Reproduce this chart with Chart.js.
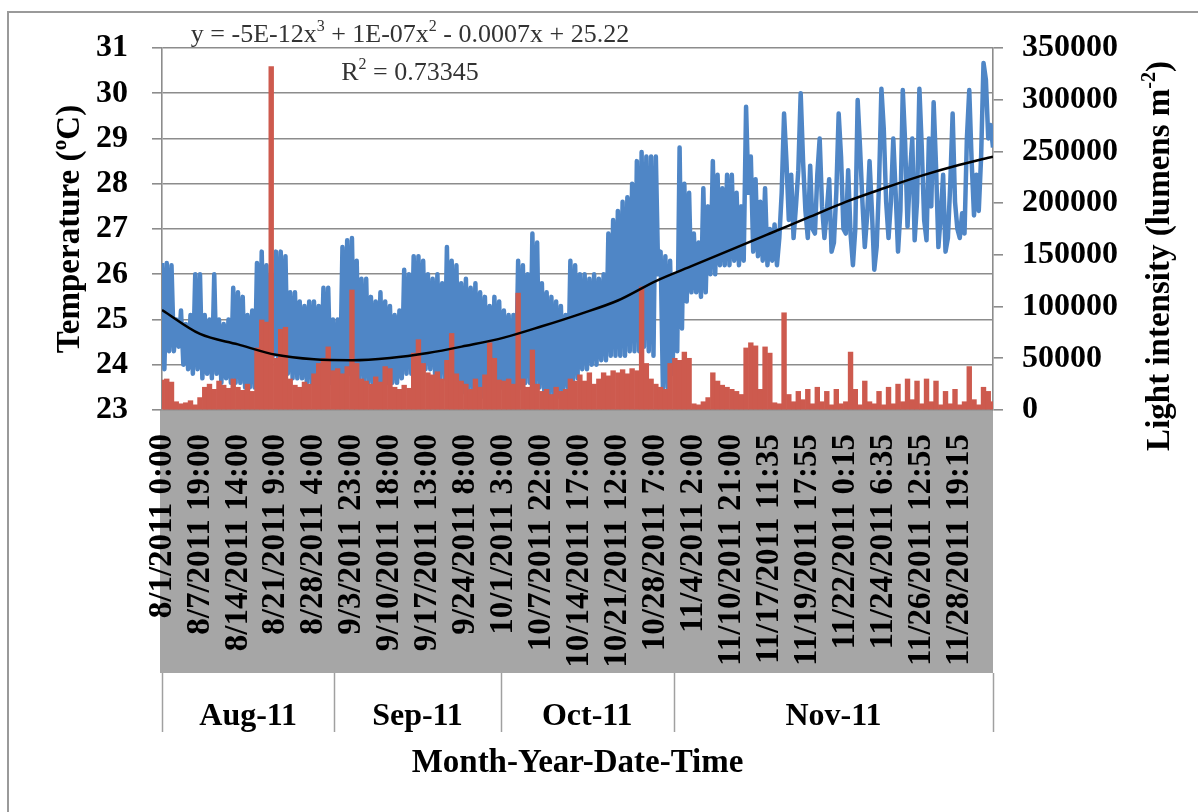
<!DOCTYPE html>
<html>
<head>
<meta charset="utf-8">
<script src="https://cdn.jsdelivr.net/npm/chart.js@4.4.0/dist/chart.umd.min.js"></script>
<style>
  html, body { margin: 0; padding: 0; background: #fff; }
</style>
</head>
<body>
<canvas id="chart" width="1198" height="812"></canvas>
<script>
// tick labels, one every 8 buckets on the x axis
const tickLabels = [
    '8/1/2011 0:00', '8/7/2011 19:00', '8/14/2011 14:00', '8/21/2011 9:00', '8/28/2011 4:00',
    '9/3/2011 23:00', '9/10/2011 18:00', '9/17/2011 13:00', '9/24/2011 8:00', '10/1/2011 3:00',
    '10/7/2011 22:00', '10/14/2011 17:00', '10/21/2011 12:00', '10/28/2011 7:00', '11/4/2011 2:00',
    '11/10/2011 21:00', '11/17/2011 11:35', '11/19/2011 17:55', '11/22/2011 0:15', '11/24/2011 6:35',
    '11/26/2011 12:55', '11/28/2011 19:15'
];
const tickIdx = tickLabels.map((_, i) => i * 8);

const monthLabels = ['Aug-11', 'Sep-11', 'Oct-11', 'Nov-11'];
const monthBounds = [0, 36.3, 71.3, 107.8, 175];

// temperature, two readings per bucket (16 per tick interval)
const tempValues = [
    26.25, 23.9, 26.25, 24.3, 26.2, 24.3, 25.0, 24.4, 25.2, 24.0, 24.9, 23.9, 25.1, 23.8, 26.0, 23.9,
    26.0, 23.7, 25.1, 23.8, 25.0, 23.7, 26.0, 23.8, 25.0, 23.6, 24.9, 23.7, 25.0, 23.6, 25.7, 23.6,
    25.6, 23.6, 25.5, 23.5, 25.1, 23.5, 25.2, 23.5, 26.25, 23.6, 26.5, 23.8, 26.2, 23.8, 26.0, 24.2,
    26.5, 24.0, 26.5, 23.9, 26.4, 23.8, 25.6, 23.7, 25.6, 23.7, 25.4, 23.7, 25.3, 23.6, 25.4, 23.6,
    25.4, 23.6, 25.3, 23.7, 25.7, 23.7, 25.7, 23.6, 25.0, 23.6, 25.0, 23.6, 26.6, 23.7, 26.75, 23.8,
    26.8, 23.8, 26.3, 23.7, 25.9, 23.6, 25.9, 23.6, 25.5, 23.5, 25.4, 23.5, 25.6, 23.5, 25.4, 23.6,
    25.3, 23.6, 25.1, 23.6, 25.2, 23.7, 26.1, 23.8, 26.0, 23.8, 26.4, 23.9, 26.4, 24.0, 26.3, 23.9,
    26.0, 23.9, 25.9, 23.8, 26.0, 23.7, 25.8, 23.7, 26.6, 23.6, 26.3, 23.5, 26.2, 23.5, 25.8, 23.4,
    25.9, 23.4, 25.7, 23.4, 25.8, 23.3, 25.6, 23.3, 25.5, 23.4, 25.3, 23.4, 25.5, 23.4, 25.4, 23.5,
    25.2, 23.5, 25.1, 23.4, 25.1, 23.4, 26.3, 23.5, 26.2, 23.6, 26.0, 23.6, 26.9, 23.5, 26.7, 23.5,
    25.8, 23.4, 25.6, 23.3, 25.5, 23.3, 25.4, 23.3, 25.3, 23.4, 25.1, 23.5, 26.3, 23.6, 26.2, 23.7,
    26.0, 23.9, 26.0, 23.9, 25.9, 24.0, 26.0, 24.0, 25.9, 24.1, 26.0, 24.1, 26.9, 24.2, 27.2, 24.2,
    27.4, 24.2, 27.6, 24.2, 27.7, 24.3, 28.0, 24.3, 28.5, 24.3, 28.7, 24.4, 28.6, 24.3, 28.6, 24.2,
    28.6, 26.0, 26.5, 23.4, 26.4, 23.5, 26.3, 23.8, 26.0, 24.3, 28.8, 24.8, 28.0, 25.4, 27.8, 25.6,
    26.9, 25.6, 26.7, 25.5, 27.9, 25.6, 27.5, 26.0, 28.5, 26.0, 28.2, 26.2, 27.9, 26.2, 28.2, 26.2,
    28.2, 26.3, 27.8, 26.2, 27.5, 26.3, 29.7, 27.8, 28.6, 26.5, 28.1, 26.4, 27.6, 26.3, 27.9, 26.2,
    27.0, 26.3, 27.1, 26.2, 26.8, 27.8, 29.55, 28.5, 27.2, 28.2, 26.8, 27.5, 28.3, 30.0, 28.5, 27.4,
    26.8, 28.4, 27.0, 26.9, 28.2, 29.0, 27.5, 26.8, 27.4, 28.1, 26.5, 26.7, 27.8, 29.55, 28.6, 27.0,
    26.9, 28.3, 26.9, 26.2, 27.0, 29.85, 28.8, 27.6, 26.6, 27.3, 28.5, 27.4, 26.1, 26.6, 28.0, 30.1,
    29.2, 27.6, 26.8, 27.6, 29.0, 27.8, 26.5, 27.4, 30.07, 28.9, 27.05, 28.2, 29.0, 26.75, 27.6, 30.1,
    28.8, 27.2, 26.75, 29.0, 27.5, 29.8, 28.4, 26.6, 27.3, 28.2, 26.5, 26.8, 28.0, 29.55, 27.6, 27.0,
    26.8, 27.35, 26.9, 29.0, 30.07, 28.5, 27.3, 28.2, 27.4, 28.6, 30.67, 30.3, 29.0, 29.3, 28.8, 28.8
];

// light intensity, one bar per bucket (8 per tick interval)
const lightValues = [
    29000, 30000, 27000, 8000, 6000, 7000, 9000, 5000,
    12000, 22000, 25000, 20000, 28000, 24000, 21000, 30000,
    22000, 19000, 25000, 18000, 60000, 87000, 85000, 332000,
    50000, 78000, 80000, 30000, 24000, 22000, 27000, 25000,
    35000, 45000, 50000, 61000, 38000, 40000, 35000, 42000,
    116000, 45000, 30000, 28000, 25000, 32000, 27000, 42000,
    40000, 22000, 20000, 24000, 21000, 55000, 68000, 45000,
    36000, 34000, 37000, 30000, 48000, 74000, 35000, 28000,
    25000, 20000, 30000, 22000, 34000, 65000, 50000, 29000,
    28000, 30000, 25000, 113000, 30000, 22000, 58000, 25000,
    18000, 20000, 15000, 22000, 18000, 20000, 30000, 28000,
    34000, 28000, 36000, 25000, 30000, 36000, 33000, 38000,
    36000, 39000, 35000, 40000, 38000, 119000, 45000, 30000,
    25000, 22000, 20000, 45000, 50000, 48000, 56000, 50000,
    6000, 5000, 8000, 12000, 36000, 28000, 24000, 22000,
    20000, 18000, 15000, 60000, 65000, 62000, 20000, 61000,
    55000, 7000, 6000, 94000, 15000, 8000, 18000, 10000,
    20000, 6000, 22000, 8000, 18000, 5000, 20000, 6000,
    8000, 56000, 20000, 5000, 28000, 8000, 6000, 18000,
    5000, 22000, 6000, 25000, 8000, 30000, 10000, 28000,
    6000, 30000, 8000, 28000, 5000, 18000, 6000, 20000,
    5000, 8000, 42000, 10000, 5000, 22000, 18000, 8000
];

// polynomial trend line read at each tick and at the right edge
const trendIdx = [0, 8, 16, 24, 32, 40, 48, 56, 64, 72, 80, 88, 96, 104, 112, 120, 128, 136, 144, 152, 160, 168, 175];
const trendValues = [25.21, 24.68, 24.45, 24.22, 24.12, 24.1, 24.15, 24.26, 24.42, 24.6, 24.85, 25.12,
    25.42, 25.85, 26.2, 26.55, 26.9, 27.25, 27.6, 27.9, 28.18, 28.42, 28.6];

const SERIF = "'Liberation Serif', 'Times New Roman', serif";
const BLUE = '#4f86c6';
const RED = '#cd5a4e';
const GRID = '#8c8c8c';

Chart.defaults.font.family = SERIF;

// draws text pieces with superscripts, centred on (cx, cy)
function drawRich(ctx, parts, cx, cy, size, weight, color) {
    const supSize = Math.round(size * 0.6);
    let total = 0;
    for (const p of parts) {
        ctx.font = `${weight} ${p.sup ? supSize : size}px ${SERIF}`;
        total += ctx.measureText(p.t).width;
    }
    let x = cx - total / 2;
    ctx.fillStyle = color;
    ctx.textAlign = 'left';
    ctx.textBaseline = 'middle';
    for (const p of parts) {
        ctx.font = `${weight} ${p.sup ? supSize : size}px ${SERIF}`;
        ctx.fillText(p.t, x, p.sup ? cy - size * 0.3 : cy);
        x += ctx.measureText(p.t).width;
    }
}

const framePlugin = {
    id: 'frame',
    beforeDraw(chart) {
        const ctx = chart.ctx;
        const area = chart.chartArea;
        ctx.save();
        ctx.fillStyle = '#fff';
        ctx.fillRect(0, 0, chart.width, chart.height);
        ctx.strokeStyle = '#9a9a9a';
        ctx.lineWidth = 2;
        ctx.strokeRect(8, 12, 1220, 840);
        ctx.fillStyle = '#a6a6a6';
        ctx.fillRect(area.left - 2, area.bottom, area.right - area.left + 2, 263);
        ctx.restore();
    },
    afterDraw(chart) {
        const ctx = chart.ctx;
        const area = chart.chartArea;
        const xs = chart.scales.x;
        const rowTop = area.bottom + 263;
        ctx.save();
        ctx.strokeStyle = '#a0a0a0';
        ctx.lineWidth = 1.5;
        for (const b of monthBounds) {
            const px = Math.round(xs.getPixelForValue(b)) + 0.5;
            ctx.beginPath();
            ctx.moveTo(px, rowTop);
            ctx.lineTo(px, rowTop + 59);
            ctx.stroke();
        }
        ctx.fillStyle = '#000';
        ctx.font = `bold 32px ${SERIF}`;
        ctx.textAlign = 'center';
        ctx.textBaseline = 'middle';
        monthLabels.forEach((m, i) => {
            const a = xs.getPixelForValue(monthBounds[i]);
            const b = xs.getPixelForValue(monthBounds[i + 1]);
            ctx.fillText(m, (a + b) / 2, rowTop + 44);
        });

        // right axis title, reading bottom to top
        ctx.translate(1160, 256);
        ctx.rotate(-Math.PI / 2);
        drawRich(ctx, [{ t: 'Light intensity (lumens m' }, { t: '-2', sup: true }, { t: ')' }], 0, 0, 33, 'bold', '#000');
        ctx.restore();

        ctx.save();
        drawRich(ctx, [
            { t: 'y = -5E-12x' }, { t: '3', sup: true }, { t: ' + 1E-07x' }, { t: '2', sup: true },
            { t: ' - 0.0007x + 25.22' }
        ], 410, 35, 26, 'normal', '#333');
        drawRich(ctx, [{ t: 'R' }, { t: '2', sup: true }, { t: ' = 0.73345' }], 410, 73, 26, 'normal', '#333');
        ctx.restore();
    }
};

new Chart(document.getElementById('chart'), {
    type: 'bar',
    data: {
        datasets: [
            {
                type: 'line',
                label: 'Poly. trend',
                data: trendIdx.map((x, i) => ({ x: x, y: trendValues[i] })),
                yAxisID: 'yT',
                borderColor: '#000',
                borderWidth: 2.5,
                pointRadius: 0,
                tension: 0.4,
                cubicInterpolationMode: 'monotone',
                order: 0
            },
            {
                type: 'bar',
                label: 'Light intensity',
                data: lightValues.map((v, i) => ({ x: i, y: v })),
                yAxisID: 'yL',
                backgroundColor: RED,
                borderWidth: 0,
                barPercentage: 1,
                categoryPercentage: 1,
                order: 1
            },
            {
                type: 'line',
                label: 'Temperature',
                data: tempValues.map((v, i) => ({ x: i / 2, y: v })),
                yAxisID: 'yT',
                borderColor: BLUE,
                borderWidth: 4.5,
                borderJoinStyle: 'round',
                pointRadius: 0,
                tension: 0,
                order: 2
            }
        ]
    },
    options: {
        responsive: false,
        animation: false,
        layout: { padding: { top: 48, left: 0, right: 0, bottom: 0 } },
        plugins: { legend: { display: false }, tooltip: { enabled: false } },
        scales: {
            x: {
                type: 'linear',
                min: 0,
                max: 175,
                offset: false,
                grid: { display: false, drawTicks: false },
                border: { display: false },
                afterBuildTicks: s => { s.ticks = tickIdx.map(v => ({ value: v })); },
                afterFit: s => { s.height = 402; },
                ticks: {
                    autoSkip: false,
                    minRotation: 90,
                    maxRotation: 90,
                    padding: 24,
                    color: '#000',
                    font: { size: 33, weight: 'bold' },
                    callback: (v, i) => tickLabels[i]
                },
                title: {
                    display: true,
                    text: 'Month-Year-Date-Time',
                    color: '#000',
                    font: { size: 33, weight: 'bold' },
                    padding: { top: 0, bottom: 29 }
                }
            },
            yT: {
                position: 'left',
                min: 23,
                max: 31,
                afterFit: s => { s.width = 162; },
                grid: { color: GRID, lineWidth: 1.6, tickLength: 10 },
                border: { color: GRID, width: 1.6 },
                ticks: { stepSize: 1, padding: 24, color: '#000', font: { size: 32, weight: 'bold' } },
                title: {
                    display: true,
                    text: 'Temperature (ºC)',
                    color: '#000',
                    font: { size: 33, weight: 'bold' },
                    padding: { top: 51, bottom: 0 }
                }
            },
            yL: {
                position: 'right',
                min: 0,
                max: 350000,
                afterFit: s => { s.width = 205; },
                grid: { drawOnChartArea: false, color: GRID, lineWidth: 1.6, tickLength: 10 },
                border: { color: GRID, width: 1.6 },
                ticks: {
                    stepSize: 50000,
                    padding: 19,
                    color: '#000',
                    font: { size: 32, weight: 'bold' },
                    callback: v => String(v)
                }
            }
        }
    },
    plugins: [framePlugin]
});
</script>
</body>
</html>
